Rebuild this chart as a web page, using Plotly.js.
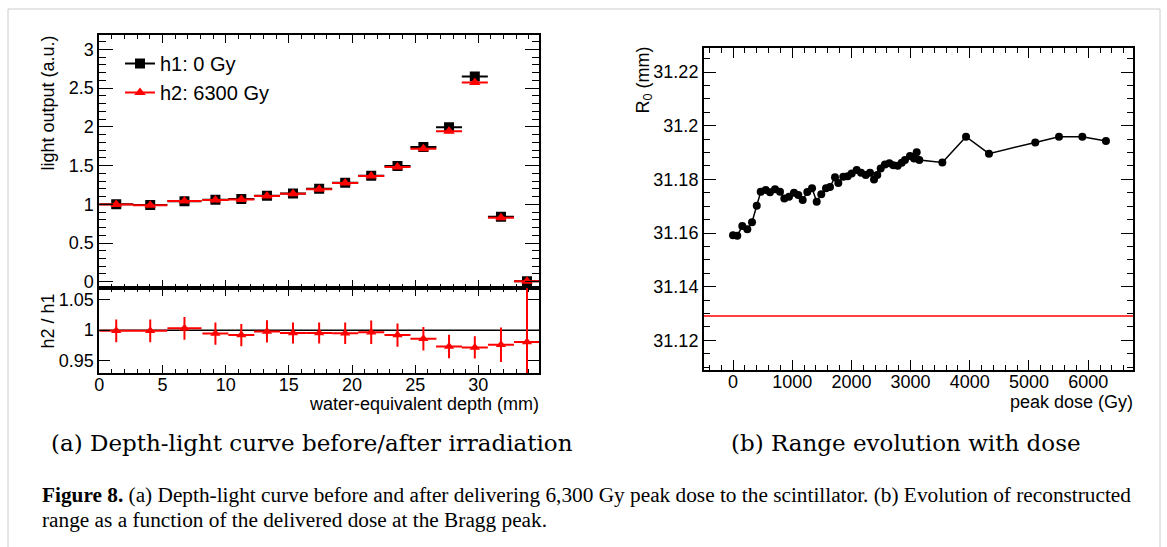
<!DOCTYPE html>
<html>
<head>
<meta charset="utf-8">
<script src="https://cdn.plot.ly/plotly-3.0.1.min.js"></script>
<style>
html,body{margin:0;padding:0;background:#fff;}
#chart{width:1167px;height:547px;}
</style>
</head>
<body>
<div id="chart"></div>
<script>
// ---------- data: panel (a) ----------
const depthCenters = [1.34, 4.03, 6.74, 9.19, 11.24, 13.27, 15.33, 17.4, 19.46, 21.52, 23.6, 25.65, 27.68, 29.72, 31.79, 33.85];
const depthHalfWidths = [1.35, 1.35, 1.35, 1.03, 1.03, 1.03, 1.03, 1.03, 1.03, 1.03, 1.03, 1.03, 1.03, 1.03, 1.03, 1.03];
const h1Light = [1.0, 0.99, 1.04, 1.06, 1.07, 1.11, 1.14, 1.2, 1.28, 1.37, 1.495, 1.74, 1.995, 2.65, 0.84, 0.005];
const h2Light = [0.999, 0.989, 1.043, 1.054, 1.061, 1.108, 1.135, 1.195, 1.274, 1.366, 1.483, 1.718, 1.945, 2.573, 0.825, 0.005];
const ratioH2H1 = [0.999, 0.999, 1.003, 0.9945, 0.992, 0.998, 0.9955, 0.9955, 0.995, 0.9967, 0.992, 0.986, 0.9735, 0.972, 0.9763, 0.9807];
const ratioErr = [0.0185, 0.0185, 0.0185, 0.018, 0.018, 0.018, 0.017, 0.017, 0.0175, 0.019, 0.019, 0.019, 0.019, 0.018, 0.028, 1.0];
const legendNames = ["h1: 0 Gy", "h2: 6300 Gy"];

// ---------- data: panel (b) ----------
const peakDose = [0, 72, 157, 242, 321, 401, 468, 552, 625, 710, 794, 867, 946, 1030, 1103, 1177, 1255, 1335, 1414, 1491, 1571, 1638, 1723, 1779, 1863, 1937, 2005, 2089, 2163, 2242, 2314, 2382, 2437, 2495, 2567, 2641, 2708, 2782, 2850, 2905, 2990, 3058, 3103, 3147, 3536, 3936, 4324, 5106, 5507, 5901, 6300];
const rangeR0 = [31.1592, 31.159, 31.1626, 31.1614, 31.164, 31.1702, 31.1754, 31.176, 31.1752, 31.1763, 31.1754, 31.1729, 31.1735, 31.175, 31.1742, 31.1723, 31.1753, 31.1767, 31.1717, 31.1745, 31.1767, 31.1772, 31.1808, 31.1787, 31.181, 31.1812, 31.1822, 31.1835, 31.1825, 31.1816, 31.1825, 31.18, 31.1816, 31.1841, 31.1856, 31.186, 31.1853, 31.1851, 31.1862, 31.1872, 31.1887, 31.1878, 31.1901, 31.1872, 31.1863, 31.1959, 31.1896, 31.1938, 31.1959, 31.1959, 31.1943];
const referenceR0 = 31.129;

// ---------- text ----------
const subCaptionA = "(a) Depth-light curve before/after irradiation";
const subCaptionB = "(b) Range evolution with dose";
const figCaptionLine1 = "<b>Figure 8.</b> (a) Depth-light curve before and after delivering 6,300 Gy peak dose to the scintillator. (b) Evolution of reconstructed";
const figCaptionLine2 = "range as a function of the delivered dose at the Bragg peak.";

// ---------- layout helpers ----------
const W = 1167, H = 547;
const px = v => v / W;
const py = v => 1 - v / H;
const SANS = "Liberation Sans, Arial, Helvetica, sans-serif";
const SERIF = "DejaVu Serif, Liberation Serif, serif";
const CAPSERIF = "Liberation Serif, Times New Roman, serif";
const FS = 18;
const tickFont = {family: SANS, size: FS, color: "#000"};

function ax(o) {
  return Object.assign({
    showline: true, linecolor: "#000", linewidth: 2, mirror: "ticks",
    ticks: "inside", tickcolor: "#000", tickwidth: 1,
    showgrid: false, zeroline: false, tickfont: tickFont, fixedrange: true
  }, o);
}

const traces = [
  {x: depthCenters, y: h1Light, xaxis: "x", yaxis: "y", type: "scatter", mode: "markers",
   marker: {symbol: "square", size: 10, color: "#000"},
   error_x: {type: "data", array: depthHalfWidths, color: "#000", thickness: 2, width: 0},
   showlegend: false, hoverinfo: "skip"},
  {x: depthCenters, y: h2Light, xaxis: "x", yaxis: "y", type: "scatter", mode: "markers",
   marker: {symbol: "triangle-up", size: 10, color: "#ff0000"},
   error_x: {type: "data", array: depthHalfWidths, color: "#ff0000", thickness: 2, width: 0},
   showlegend: false, hoverinfo: "skip"},
  {x: [null], y: [null], xaxis: "x", yaxis: "y", type: "scatter", mode: "lines+markers",
   name: legendNames[0], legendgroup: "a",
   line: {color: "#000", width: 2}, marker: {symbol: "square", size: 10, color: "#000"}},
  {x: [null], y: [null], xaxis: "x", yaxis: "y", type: "scatter", mode: "lines+markers",
   name: legendNames[1], legendgroup: "b",
   line: {color: "#ff0000", width: 2}, marker: {symbol: "triangle-up", size: 10, color: "#ff0000"}},
  {x: depthCenters, y: ratioH2H1, xaxis: "x2", yaxis: "y2", type: "scatter", mode: "markers",
   marker: {symbol: "triangle-up", size: 9, color: "#ff0000"},
   error_x: {type: "data", array: depthHalfWidths, color: "#ff0000", thickness: 2, width: 0},
   error_y: {type: "data", array: ratioErr, color: "#ff0000", thickness: 2, width: 0},
   showlegend: false, hoverinfo: "skip"},
  {x: peakDose, y: rangeR0, xaxis: "x3", yaxis: "y3", type: "scatter", mode: "lines+markers",
   line: {color: "#000", width: 1.5}, marker: {symbol: "circle", size: 8, color: "#000"},
   showlegend: false, hoverinfo: "skip"}
];

const layout = {
  width: W, height: H,
  margin: {l: 0, r: 0, t: 0, b: 0},
  paper_bgcolor: "#fff", plot_bgcolor: "rgba(0,0,0,0)",
  font: {family: SANS, size: FS, color: "#000"},
  showlegend: true,
  legend: {x: px(120), y: py(44), xanchor: "left", yanchor: "top",
           bgcolor: "rgba(0,0,0,0)", borderwidth: 0, font: {family: SANS, size: 20},
           traceorder: "grouped", tracegroupgap: 0, itemwidth: 30},
  xaxis: ax({domain: [px(99.3), px(539)], anchor: "y", range: [0, 34.8],
             tick0: 0, dtick: 5, ticklen: 8, showticklabels: false,
             minor: {ticks: "inside", ticklen: 4, dtick: 1, tickcolor: "#000"}}),
  yaxis: ax({domain: [py(288.3), py(35)], anchor: "x", range: [-0.085, 3.187],
             tick0: 0, dtick: 0.5, ticklen: 14,
             minor: {ticks: "inside", ticklen: 7, dtick: 0.1, tickcolor: "#000"}}),
  xaxis2: ax({domain: [px(99.3), px(539)], anchor: "y2", range: [0, 34.8],
              tick0: 0, dtick: 5, ticklen: 8, ticklabelstandoff: -6,
              minor: {ticks: "inside", ticklen: 4, dtick: 1, tickcolor: "#000"}}),
  yaxis2: ax({domain: [py(373.3), py(288.3)], anchor: "x2", range: [0.93, 1.068],
              tick0: 0.95, dtick: 0.05, ticklen: 11}),
  xaxis3: ax({domain: [px(704), px(1133)], anchor: "y3", range: [-490, 6757],
              tick0: 0, dtick: 1000, ticklen: 10, ticklabelstandoff: -6,
              minor: {ticks: "inside", ticklen: 5, dtick: 200, tickcolor: "#000"}}),
  yaxis3: ax({domain: [py(370), py(48.3)], anchor: "x3", range: [31.1089, 31.2289],
              tick0: 31.12, dtick: 0.02, ticklen: 12,
              minor: {ticks: "inside", ticklen: 6, dtick: 0.005, tickcolor: "#000"}}),
  shapes: [
    {type: "line", xref: "x2 domain", yref: "y2", x0: 0, x1: 1, y0: 1, y1: 1,
     line: {color: "#000", width: 1.5}, layer: "below"},
    {type: "line", xref: "x3 domain", yref: "y3", x0: 0, x1: 1, y0: referenceR0, y1: referenceR0,
     line: {color: "#ff0000", width: 1.5}, layer: "below"},
    {type: "rect", xref: "paper", yref: "paper", x0: px(8), x1: px(1160), y0: -0.05, y1: py(9),
     line: {color: "#cccccc", width: 1}, fillcolor: "rgba(0,0,0,0)", layer: "below"}
  ],
  annotations: [
    {text: "light output (a.u.)", xref: "paper", yref: "paper", x: px(47), y: py(34),
     xanchor: "center", yanchor: "top", textangle: -90, showarrow: false, font: {family: SANS, size: FS}},
    {text: "h2 / h1", xref: "paper", yref: "paper", x: px(47), y: py(292),
     xanchor: "center", yanchor: "top", textangle: -90, showarrow: false, font: {family: SANS, size: FS}},
    {text: "water-equivalent depth (mm)", xref: "paper", yref: "paper", x: px(541), y: py(404),
     xanchor: "right", yanchor: "middle", showarrow: false, font: {family: SANS, size: FS}},
    {text: "R<sub>0</sub> (mm)", xref: "paper", yref: "paper", x: px(644), y: py(45),
     xanchor: "center", yanchor: "top", textangle: -90, showarrow: false, font: {family: SANS, size: FS}},
    {text: "peak dose (Gy)", xref: "paper", yref: "paper", x: px(1135), y: py(402),
     xanchor: "right", yanchor: "middle", showarrow: false, font: {family: SANS, size: FS}},
    {text: subCaptionA, xref: "paper", yref: "paper", x: px(312), y: py(443),
     xanchor: "center", yanchor: "middle", showarrow: false, font: {family: SERIF, size: 23}},
    {text: subCaptionB, xref: "paper", yref: "paper", x: px(906), y: py(443),
     xanchor: "center", yanchor: "middle", showarrow: false, font: {family: SERIF, size: 23}},
    {text: figCaptionLine1, xref: "paper", yref: "paper", x: px(40), y: py(495),
     xanchor: "left", yanchor: "middle", align: "left", showarrow: false, font: {family: CAPSERIF, size: 21.3}},
    {text: figCaptionLine2, xref: "paper", yref: "paper", x: px(40), y: py(520),
     xanchor: "left", yanchor: "middle", align: "left", showarrow: false, font: {family: CAPSERIF, size: 21.3}}
  ]
};

Plotly.newPlot("chart", traces, layout, {displayModeBar: false, staticPlot: true});
</script>
</body>
</html>
